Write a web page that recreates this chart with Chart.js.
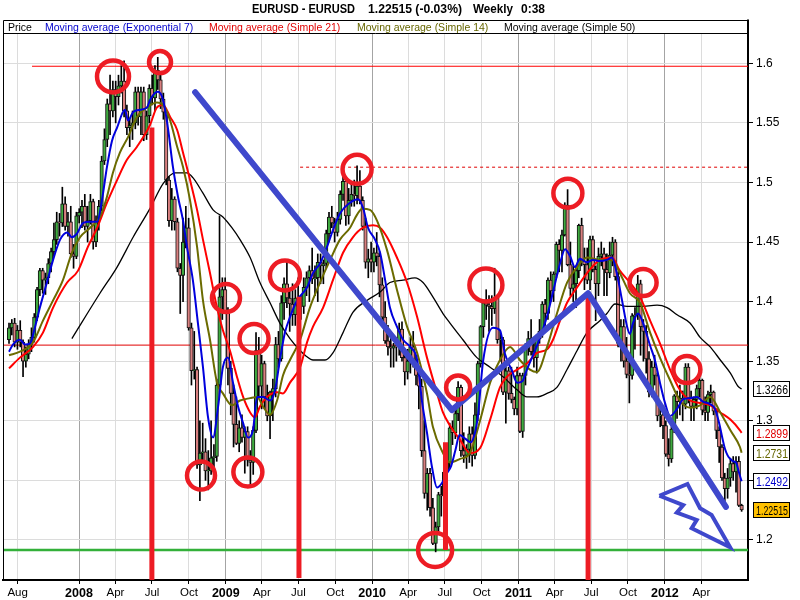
<!DOCTYPE html>
<html><head><meta charset="utf-8"><title>EURUSD Weekly</title>
<script src="https://cdn.jsdelivr.net/npm/chart.js@4.4.1/dist/chart.umd.min.js"></script>
<style>html,body{margin:0;padding:0;background:#fff;overflow:hidden}canvas{display:block}</style>
</head><body>
<canvas id="chart" width="800" height="600"></canvas>
<script>
// ===== DATA (weekly bars, index 0 = week of 9 Jul 2007) =====
const opens = [
1.368,1.378,1.382,1.366,1.376,1.366,1.350,1.356,1.364,1.370,
1.387,1.410,1.426,1.418,1.420,1.432,1.442,1.452,1.467,1.466,
1.482,1.463,1.467,1.440,1.438,1.472,1.475,1.480,1.463,1.468,
1.484,1.450,1.468,1.480,1.518,1.536,1.566,1.560,1.578,1.572,
1.581,1.585,1.560,1.546,1.548,1.550,1.576,1.555,1.576,1.540,
1.556,1.579,1.571,1.594,1.586,1.570,1.559,1.502,1.468,1.486,
1.467,1.428,1.422,1.450,1.462,1.378,1.342,1.343,1.263,1.273,
1.274,1.258,1.258,1.269,1.270,1.330,1.404,1.410,1.392,1.344,
1.323,1.297,1.281,1.294,1.286,1.291,1.267,1.265,1.292,1.359,
1.329,1.348,1.320,1.304,1.324,1.327,1.364,1.352,1.399,1.415,
1.403,1.398,1.389,1.403,1.396,1.396,1.412,1.420,1.426,1.419,
1.420,1.433,1.430,1.432,1.457,1.471,1.466,1.458,1.469,1.490,
1.501,1.472,1.485,1.490,1.489,1.497,1.485,1.463,1.433,1.436,
1.433,1.441,1.438,1.414,1.387,1.367,1.362,1.361,1.363,1.362,
1.377,1.353,1.341,1.350,1.362,1.350,1.338,1.329,1.275,1.239,
1.256,1.227,1.197,1.211,1.238,1.237,1.257,1.265,1.294,1.290,
1.306,1.328,1.275,1.271,1.276,1.289,1.271,1.305,1.348,1.379,
1.399,1.397,1.396,1.394,1.403,1.368,1.368,1.324,1.342,1.323,
1.318,1.310,1.338,1.291,1.338,1.362,1.369,1.358,1.353,1.369,
1.375,1.398,1.390,1.418,1.409,1.423,1.448,1.443,1.456,1.481,
1.431,1.411,1.415,1.426,1.464,1.434,1.431,1.418,1.452,1.427,
1.415,1.438,1.440,1.427,1.424,1.439,1.450,1.421,1.365,1.379,
1.350,1.339,1.338,1.388,1.389,1.415,1.379,1.375,1.352,1.324,
1.345,1.338,1.304,1.305,1.296,1.272,1.268,1.293,1.321,1.316,
1.319,1.314,1.345,1.319,1.312,1.318,1.327,1.334,1.309,1.307,
1.322,1.324,1.308,1.292,1.278,1.252,1.243,1.252,1.264,1.257,
1.266,1.229];
const highs = [
1.382,1.385,1.386,1.380,1.384,1.368,1.362,1.368,1.378,1.390,
1.412,1.428,1.428,1.424,1.436,1.445,1.466,1.475,1.474,1.496,
1.488,1.475,1.480,1.448,1.475,1.478,1.485,1.490,1.480,1.490,
1.486,1.472,1.485,1.522,1.545,1.570,1.590,1.585,1.585,1.590,
1.598,1.602,1.565,1.554,1.560,1.580,1.580,1.580,1.580,1.560,
1.582,1.590,1.598,1.605,1.590,1.575,1.560,1.505,1.495,1.488,
1.470,1.432,1.470,1.480,1.470,1.382,1.375,1.345,1.300,1.298,
1.285,1.275,1.300,1.280,1.335,1.472,1.420,1.420,1.395,1.350,
1.330,1.320,1.300,1.305,1.295,1.295,1.275,1.295,1.374,1.370,
1.355,1.350,1.330,1.325,1.335,1.370,1.375,1.405,1.420,1.433,
1.410,1.415,1.410,1.420,1.405,1.420,1.425,1.430,1.445,1.430,
1.440,1.440,1.435,1.460,1.475,1.480,1.470,1.475,1.493,1.508,
1.505,1.495,1.500,1.502,1.514,1.510,1.488,1.470,1.444,1.450,
1.445,1.458,1.442,1.420,1.400,1.380,1.375,1.365,1.370,1.382,
1.383,1.360,1.360,1.370,1.375,1.355,1.345,1.335,1.300,1.260,
1.260,1.235,1.215,1.240,1.245,1.260,1.275,1.298,1.300,1.312,
1.333,1.330,1.290,1.280,1.295,1.295,1.315,1.350,1.380,1.400,
1.410,1.405,1.405,1.428,1.405,1.375,1.370,1.345,1.345,1.345,
1.320,1.345,1.340,1.340,1.365,1.375,1.385,1.370,1.372,1.385,
1.400,1.402,1.420,1.425,1.425,1.450,1.452,1.460,1.483,1.494,
1.450,1.430,1.430,1.465,1.470,1.445,1.445,1.455,1.455,1.430,
1.445,1.450,1.445,1.440,1.450,1.454,1.452,1.425,1.385,1.385,
1.370,1.350,1.390,1.395,1.422,1.418,1.385,1.380,1.358,1.350,
1.355,1.340,1.310,1.310,1.300,1.285,1.295,1.322,1.325,1.330,
1.325,1.348,1.348,1.325,1.320,1.330,1.338,1.335,1.320,1.325,
1.330,1.325,1.310,1.295,1.280,1.256,1.260,1.268,1.270,1.270,
1.270,1.230];
const lows = [
1.365,1.372,1.362,1.360,1.362,1.337,1.345,1.352,1.358,1.366,
1.384,1.405,1.407,1.406,1.415,1.425,1.438,1.448,1.455,1.463,
1.460,1.455,1.437,1.428,1.436,1.466,1.462,1.460,1.450,1.465,
1.444,1.446,1.460,1.476,1.515,1.530,1.540,1.555,1.550,1.565,
1.575,1.555,1.540,1.530,1.536,1.545,1.548,1.540,1.535,1.536,
1.550,1.565,1.560,1.578,1.562,1.553,1.498,1.463,1.460,1.460,
1.425,1.390,1.400,1.445,1.376,1.330,1.335,1.260,1.233,1.265,
1.250,1.242,1.255,1.252,1.266,1.328,1.385,1.390,1.330,1.305,
1.278,1.280,1.274,1.282,1.256,1.262,1.246,1.255,1.290,1.320,
1.310,1.310,1.300,1.285,1.300,1.320,1.345,1.350,1.385,1.395,
1.375,1.380,1.380,1.395,1.385,1.390,1.405,1.400,1.415,1.405,
1.400,1.415,1.415,1.428,1.450,1.462,1.450,1.455,1.465,1.485,
1.464,1.465,1.480,1.480,1.482,1.482,1.460,1.428,1.420,1.425,
1.425,1.430,1.404,1.385,1.365,1.355,1.345,1.345,1.350,1.355,
1.350,1.330,1.335,1.340,1.345,1.330,1.310,1.270,1.235,1.225,
1.220,1.196,1.190,1.205,1.220,1.215,1.250,1.260,1.280,1.285,
1.300,1.270,1.265,1.260,1.265,1.262,1.268,1.300,1.345,1.370,
1.385,1.375,1.380,1.390,1.365,1.350,1.322,1.298,1.318,1.315,
1.305,1.305,1.290,1.286,1.330,1.355,1.355,1.345,1.340,1.365,
1.370,1.380,1.385,1.400,1.400,1.420,1.425,1.425,1.455,1.430,
1.405,1.400,1.395,1.420,1.430,1.410,1.415,1.410,1.425,1.384,
1.405,1.430,1.405,1.405,1.420,1.430,1.418,1.362,1.350,1.345,
1.336,1.315,1.335,1.360,1.385,1.355,1.350,1.340,1.320,1.320,
1.330,1.300,1.295,1.285,1.270,1.262,1.265,1.290,1.302,1.305,
1.300,1.310,1.315,1.300,1.300,1.310,1.320,1.305,1.300,1.300,
1.315,1.305,1.285,1.265,1.250,1.229,1.235,1.245,1.250,1.240,
1.228,1.224];
const closes = [
1.378,1.382,1.366,1.376,1.366,1.350,1.356,1.364,1.370,1.387,
1.410,1.426,1.418,1.420,1.432,1.442,1.452,1.467,1.466,1.482,
1.463,1.467,1.440,1.438,1.472,1.475,1.480,1.463,1.468,1.484,
1.450,1.468,1.480,1.518,1.536,1.566,1.560,1.578,1.572,1.581,
1.585,1.560,1.546,1.548,1.550,1.576,1.555,1.576,1.540,1.556,
1.579,1.571,1.594,1.586,1.570,1.559,1.502,1.468,1.486,1.467,
1.428,1.422,1.450,1.462,1.378,1.342,1.343,1.263,1.273,1.274,
1.258,1.258,1.269,1.270,1.330,1.404,1.410,1.392,1.344,1.323,
1.297,1.281,1.294,1.286,1.291,1.267,1.265,1.292,1.359,1.329,
1.348,1.320,1.304,1.324,1.327,1.364,1.352,1.399,1.415,1.403,
1.398,1.389,1.403,1.396,1.396,1.412,1.420,1.426,1.419,1.420,
1.433,1.430,1.432,1.457,1.471,1.466,1.458,1.469,1.490,1.501,
1.472,1.485,1.490,1.489,1.497,1.485,1.463,1.433,1.436,1.433,
1.441,1.438,1.414,1.387,1.367,1.362,1.361,1.363,1.362,1.377,
1.353,1.341,1.350,1.362,1.350,1.338,1.329,1.275,1.239,1.256,
1.227,1.197,1.211,1.238,1.237,1.257,1.265,1.294,1.290,1.306,
1.328,1.275,1.271,1.276,1.289,1.271,1.305,1.348,1.379,1.399,
1.397,1.396,1.394,1.403,1.368,1.368,1.324,1.342,1.323,1.318,
1.310,1.338,1.291,1.338,1.362,1.369,1.358,1.353,1.369,1.375,
1.398,1.390,1.418,1.409,1.423,1.448,1.443,1.456,1.481,1.431,
1.411,1.415,1.426,1.464,1.434,1.431,1.418,1.452,1.427,1.415,
1.438,1.440,1.427,1.424,1.439,1.450,1.421,1.365,1.379,1.350,
1.339,1.338,1.388,1.389,1.415,1.379,1.375,1.352,1.324,1.345,
1.338,1.304,1.305,1.296,1.272,1.268,1.293,1.321,1.316,1.319,
1.314,1.345,1.319,1.312,1.318,1.327,1.334,1.309,1.307,1.322,
1.324,1.308,1.292,1.278,1.252,1.243,1.252,1.264,1.257,1.266,
1.229,1.22515];

// moving averages: [bar index, value]
const ema7 = [[0,1.358],[1.4,1.364],[3.9,1.368],[5.7,1.364],[7.5,1.365],[9.3,1.379],[11,1.395],[13.5,1.416],[15.7,1.435],[18.2,1.452],[20.7,1.458],[22.4,1.454],[24.2,1.457],[26.4,1.466],[28.9,1.467],[31.4,1.467],[33.1,1.485],[34.9,1.513],[36.7,1.535],[38.5,1.546],[41.3,1.561],[42.4,1.552],[44.2,1.559],[46.7,1.561],[49.2,1.563],[50.2,1.569],[52,1.575],[53.1,1.576],[54.9,1.569],[56.6,1.546],[58.4,1.513],[60.2,1.488],[62,1.468],[63.4,1.446],[65.5,1.418],[67.3,1.382],[69.1,1.345],[70.9,1.303],[72.7,1.286],[74.5,1.312],[76.2,1.345],[78,1.353],[79.8,1.332],[81.6,1.312],[83.4,1.298],[85.1,1.286],[86.9,1.292],[88.4,1.320],[90.5,1.320],[93,1.317],[94.8,1.326],[96.5,1.351],[98.3,1.374],[100.1,1.387],[102.6,1.401],[106.2,1.412],[108.3,1.424],[110.8,1.432],[113.3,1.446],[115.4,1.460],[117.9,1.474],[121.5,1.483],[124.3,1.486],[126.1,1.479],[127.9,1.462],[130.4,1.452],[132.2,1.441],[134,1.418],[135.7,1.395],[138.2,1.379],[140.4,1.368],[142.9,1.362],[145.4,1.351],[147.1,1.317],[148.9,1.290],[150.7,1.261],[152.5,1.244],[154.3,1.248],[156,1.256],[157.5,1.262],[159,1.275],[160.5,1.288],[162.5,1.285],[164.5,1.282],[166,1.290],[167,1.303],[168.9,1.350],[172.4,1.378],[174.9,1.376],[176.7,1.356],[179.2,1.342],[181,1.332],[182.8,1.333],[184.5,1.343],[186.7,1.355],[189.2,1.370],[191.7,1.388],[193.8,1.408],[196.3,1.432],[198.1,1.444],[199.9,1.438],[201.6,1.429],[203.4,1.436],[205.9,1.433],[208,1.435],[210.5,1.434],[213,1.435],[214.8,1.437],[216.6,1.423],[218.4,1.401],[220.2,1.379],[221.2,1.373],[222.3,1.382],[224.1,1.390],[225.9,1.382],[228.4,1.363],[230.1,1.351],[231.9,1.332],[233.7,1.315],[235.5,1.304],[238,1.310],[240.1,1.318],[242.6,1.319],[245.1,1.320],[247.2,1.316],[249.7,1.314],[251.5,1.310],[253,1.298],[254,1.287],[255,1.277],[256,1.271],[257,1.268],[258,1.266],[259,1.265],[260,1.257],[261,1.2492]];
const sma21 = [[0,1.344],[3.9,1.353],[8.6,1.362],[12.1,1.374],[15.7,1.395],[20.7,1.416],[24.6,1.426],[28.1,1.446],[31.4,1.462],[34.9,1.483],[38.5,1.502],[42,1.519],[45.6,1.530],[50.2,1.548],[52.7,1.563],[54.9,1.565],[57.4,1.555],[59.9,1.544],[62,1.525],[64.5,1.502],[67,1.477],[69.1,1.452],[71.6,1.424],[74.1,1.395],[76.2,1.376],[78.7,1.359],[81.2,1.337],[83.4,1.320],[85.9,1.307],[87.6,1.303],[89.4,1.312],[91.9,1.320],[95.5,1.324],[97.6,1.323],[100.1,1.332],[103.7,1.345],[106.2,1.366],[108.3,1.379],[111.9,1.395],[115.4,1.418],[119,1.441],[122.5,1.454],[126.1,1.462],[129.7,1.464],[132.2,1.462],[134.7,1.454],[138.2,1.437],[141.8,1.416],[145.4,1.387],[148.9,1.353],[152.5,1.323],[154.6,1.307],[157.1,1.296],[160.7,1.284],[164.2,1.273],[167.8,1.277],[171.4,1.301],[174.9,1.328],[177.4,1.337],[181,1.343],[184.5,1.348],[188.1,1.357],[191.7,1.360],[193.8,1.368],[196.3,1.384],[198.8,1.399],[202.4,1.412],[205.9,1.424],[210.5,1.435],[214.8,1.437],[217.6,1.426],[221.2,1.416],[224.8,1.404],[228.4,1.384],[231.9,1.365],[235.5,1.343],[239,1.326],[242.6,1.317],[246.2,1.315],[249.8,1.313],[253.4,1.307],[257,1.301],[260.4,1.292],[261,1.2899]];
const sma14 = [[0,1.355],[3.9,1.358],[8.6,1.366],[12.1,1.384],[15.7,1.401],[19.2,1.418],[22.4,1.441],[25.3,1.454],[28.9,1.462],[32.4,1.471],[34.9,1.488],[37,1.508],[39.5,1.525],[42.4,1.538],[45.6,1.555],[49.2,1.563],[52.7,1.567],[54.9,1.565],[57.4,1.552],[59.9,1.530],[62,1.513],[64.5,1.485],[67,1.446],[69.1,1.401],[71.6,1.368],[74.1,1.332],[76.2,1.323],[79.4,1.313],[82.3,1.317],[85.9,1.319],[88.4,1.320],[90.5,1.312],[93,1.305],[95.5,1.317],[97.6,1.338],[100.1,1.351],[103.7,1.368],[107.2,1.395],[110.8,1.416],[114.4,1.435],[117.9,1.452],[121.5,1.462],[124,1.473],[125.8,1.478],[128.6,1.477],[131.1,1.468],[134.7,1.443],[138.2,1.410],[141.8,1.379],[145.4,1.357],[148.9,1.323],[151,1.295],[154.6,1.273],[157.1,1.265],[160.7,1.268],[164.2,1.273],[167.8,1.300],[171.4,1.332],[174.9,1.351],[178.5,1.362],[182,1.351],[185.6,1.343],[188.1,1.341],[191.7,1.362],[195.2,1.390],[198.8,1.416],[202.4,1.429],[205.9,1.437],[210.5,1.435],[214.8,1.435],[217.6,1.424],[221.2,1.407],[224.8,1.399],[228.4,1.374],[231.9,1.353],[235.5,1.334],[239,1.317],[242.6,1.311],[246.2,1.313],[249.8,1.320],[253.4,1.307],[257,1.292],[260.4,1.278],[261,1.2731]];
const sma50 = [[22.4,1.369],[32.4,1.407],[38.5,1.429],[44.2,1.454],[50.2,1.478],[54.9,1.499],[59.1,1.508],[63.4,1.508],[65.5,1.504],[69.1,1.491],[72.7,1.477],[76.2,1.471],[79.4,1.462],[82.3,1.452],[85.9,1.437],[89.4,1.416],[93,1.399],[96.5,1.382],[100.1,1.369],[103.7,1.359],[106,1.354],[108.3,1.351],[112.6,1.351],[115.4,1.357],[119,1.374],[122.5,1.391],[127.5,1.401],[132.2,1.408],[135.7,1.416],[140.4,1.418],[144.6,1.420],[147.5,1.416],[151,1.404],[154.6,1.390],[157.1,1.382],[161.7,1.368],[166.7,1.353],[171.4,1.345],[176,1.337],[181,1.326],[184.5,1.320],[188.1,1.320],[191.7,1.323],[195.2,1.328],[198.8,1.343],[202.4,1.359],[205.9,1.374],[210.5,1.384],[213,1.390],[215.9,1.398],[220.2,1.396],[224.8,1.396],[230.9,1.397],[234.4,1.395],[238,1.389],[242.6,1.382],[246.2,1.370],[249.8,1.362],[253.4,1.351],[257,1.340],[259.7,1.329],[261,1.3266]];

// axis ticks
const xTickValues = [3.09,24.94,37.94,50.94,64.09,77.23,90.09,103.09,116.23,129.37,142.23,155.23,168.37,181.51,194.37,207.37,220.51,233.66,246.66];
const xTickLabels = ['Aug','2008','Apr','Jul','Oct','2009','Apr','Jul','Oct','2010','Apr','Jul','Oct','2011','Apr','Jul','Oct','2012','Apr'];
const yTickValues = [1.2,1.25,1.3,1.35,1.4,1.45,1.5,1.55,1.6];
const yTickLabels = ['1.2','1.25','1.3','1.35','1.4','1.45','1.5','1.55','1.6'];

// drawn annotations (bar index / price)
const levelValues = [1.5975, 1.3635, 1.5128, 1.1916];
const levelStarts = [8.2, -2.14, 103.7, -2.14];
const vLineX = [50.9, 103.3, 155.5, 206.3];
const vLineTop = [1.546, 1.404, 1.282, 1.407];
const vLineBottom = [1.1664, 1.168, 1.1916, 1.1664];
const trendX = [66.3, 157.8, 206.3, 255.4];
const trendY = [1.5757, 1.309, 1.4071, 1.2277];
const boltX = [231.7, 241.7, 246.2, 250.3, 256.9, 243.2, 245.0, 237.9, 240.2, 231.7];
const boltY = [1.2371, 1.2470, 1.2266, 1.2210, 1.1939, 1.2098, 1.2168, 1.2229, 1.2293, 1.2371];
const circleX = [37.05, 53.8, 124, 68.4, 85.1, 77.3, 87.3, 98.3, 151.8, 160, 169.9, 199.1, 225.9, 241.5];
const circleY = [1.589, 1.601, 1.511, 1.254, 1.257, 1.403, 1.369, 1.422, 1.1916, 1.328, 1.414, 1.491, 1.416, 1.343];

// ===== STYLE / LAYOUT =====
const circleRadius = [16, 11, 14.5, 14, 14.5, 14, 14.5, 15, 17, 12, 16.5, 14.5, 13.5, 13.5];
const FONT = '"Liberation Sans", Arial, Helvetica, sans-serif';
const X_MIN = -2.14, X_MAX = 263.27, Y_MIN = 1.1664, Y_MAX = 1.6254;
const UP = '#3faa3f', DOWN = '#d98080';
const isYear = s => /^\d{4}$/.test(s);

const n = closes.length;
const idx = Array.from({length: n}, (_, i) => i);
const pts = arr => arr.map(([x, y]) => ({x, y}));

const datasets = [];
const levelStyles = [
  {c: '#ff0000', w: 1.2, d: []},
  {c: '#e00000', w: 1, d: []},
  {c: '#e00000', w: 1, d: [3, 3]},
  {c: '#33b03a', w: 2.5, d: []}
];
levelValues.forEach((v, k) => datasets.push({
  type: 'line', data: [{x: levelStarts[k], y: v}, {x: X_MAX, y: v}],
  borderColor: levelStyles[k].c, borderWidth: levelStyles[k].w, borderDash: levelStyles[k].d,
  pointRadius: 0, order: 30
}));
datasets.push({
  type: 'bar', label: 'wick', data: idx.map(i => ({x: i, y: [lows[i], highs[i]]})),
  backgroundColor: '#000', barThickness: 1, grouped: false, order: 21
});
datasets.push({
  type: 'bar', label: 'Price', data: idx.map(i => ({x: i, y: [opens[i], closes[i]]})),
  backgroundColor: idx.map(i => closes[i] >= opens[i] ? UP : DOWN),
  borderColor: '#111', borderWidth: 1, borderSkipped: false,
  barThickness: 3.5, grouped: false, order: 20, minBarLength: 1
});
const maStyles = [
  [sma50, '#000000', 1.3, 13],
  [sma21, '#ff0000', 2, 12],
  [sma14, '#6b6b00', 2, 11],
  [ema7, '#0000dd', 2, 10]
];
maStyles.forEach(([arr, c, w, o]) => datasets.push({
  type: 'line', data: pts(arr), borderColor: c, borderWidth: w,
  pointRadius: 0, cubicInterpolationMode: 'monotone', order: o
}));
vLineX.forEach((x, k) => datasets.push({
  type: 'line', data: [{x, y: vLineTop[k]}, {x, y: vLineBottom[k]}],
  borderColor: '#ed1c24', borderWidth: 5, pointRadius: 0, order: 5, clip: 0
}));
datasets.push({
  type: 'line', data: trendX.map((x, k) => ({x, y: trendY[k]})),
  borderColor: '#3f48cc', borderWidth: 6, pointRadius: 0, borderJoinStyle: 'round',
  borderCapStyle: 'round', order: 4
});
datasets.push({
  type: 'line', data: boltX.map((x, k) => ({x, y: boltY[k]})),
  borderColor: '#3f48cc', borderWidth: 4, pointRadius: 0, borderJoinStyle: 'miter', order: 4
});
datasets.push({
  type: 'scatter', data: circleX.map((x, k) => ({x, y: circleY[k]})),
  pointRadius: circleRadius, pointBorderWidth: 4.5, pointBorderColor: '#ed1c24',
  pointBackgroundColor: 'rgba(0,0,0,0)', pointHoverRadius: circleRadius, showLine: false, order: 2
});

const overlay = {
  id: 'overlay',
  afterDraw(chart) {
    const {ctx, scales: {y}} = chart;
    ctx.save();
    ctx.strokeStyle = '#000'; ctx.lineWidth = 1;
    ctx.beginPath();
    ctx.moveTo(3.5, 581); ctx.lineTo(3.5, 20.5); ctx.lineTo(748, 20.5);
    ctx.moveTo(3.5, 33.5); ctx.lineTo(748, 33.5);
    ctx.stroke();
    ctx.lineWidth = 2; ctx.beginPath(); ctx.moveTo(748, 19.5); ctx.lineTo(748, 34); ctx.stroke();
    ctx.fillStyle = '#000'; ctx.textAlign = 'left'; ctx.textBaseline = 'alphabetic';
    ctx.font = 'bold 12.5px ' + FONT;
    [['EURUSD - EURUSD', 252, 103], ['1.22515 (-0.03%)', 368, 94], ['Weekly', 473, 40], ['0:38', 521, 24]]
      .forEach(([t, x, w]) => ctx.fillText(t, x, 12.5, w));
    ctx.font = '10.5px ' + FONT;
    [['Price', 8, '#000', 26], ['Moving average (Exponential 7)', 45, '#0000cc', 151],
     ['Moving average (Simple 21)', 209, '#e00000', 134], ['Moving average (Simple 14)', 357, '#666600', 134],
     ['Moving average (Simple 50)', 504, '#000', 133]]
      .forEach(([t, x, c, w]) => { ctx.fillStyle = c; ctx.fillText(t, x, 30.5, w); });
    const boxes = [
      [sma50[sma50.length - 1][1], '#000', '#fff', 4],
      [sma21[sma21.length - 1][1], '#e00000', '#fff', 4],
      [sma14[sma14.length - 1][1], '#666600', '#fff', 4],
      [ema7[ema7.length - 1][1], '#0000cc', '#fff', 4],
      [closes[n - 1], '#000', '#ffc000', 5]
    ];
    ctx.font = '12px ' + FONT;
    boxes.forEach(([v, c, bg, dec]) => {
      const py = Math.round(y.getPixelForValue(v));
      ctx.fillStyle = bg; ctx.fillRect(754, py - 7, 35, 14);
      ctx.strokeStyle = '#000'; ctx.lineWidth = 1; ctx.strokeRect(753.5, py - 7.5, 36, 15);
      ctx.fillStyle = c; ctx.fillText(v.toFixed(dec), 756, py + 4.5, 32);
    });
    ctx.restore();
  }
};

new Chart(document.getElementById('chart'), {
  type: 'bar',
  data: {datasets},
  options: {
    responsive: false, animation: false, devicePixelRatio: 1,
    events: [],
    layout: {autoPadding: false, padding: {top: 33, left: 3, right: 0, bottom: 0}},
    plugins: {legend: {display: false}, tooltip: {enabled: false}, title: {display: false}},
    scales: {
      x: {
        type: 'linear', min: X_MIN, max: X_MAX, offset: false,
        afterBuildTicks: s => { s.ticks = xTickValues.map(v => ({value: v})); },
        afterFit: s => { s.height = 20; s.paddingLeft = 0; s.paddingRight = 0; },
        ticks: {
          autoSkip: false, maxRotation: 0, minRotation: 0, padding: 2, color: '#000',
          callback: (v, i) => xTickLabels[i],
          font: c => ({family: FONT, size: isYear(xTickLabels[c.index]) ? 12.5 : 11.5,
                       weight: isYear(xTickLabels[c.index]) ? 'bold' : 'normal'})
        },
        grid: {
          offset: false, lineWidth: 1, drawTicks: true, tickLength: 4, tickColor: '#000',
          color: c => isYear(xTickLabels[c.index]) ? '#a4a4a4' : '#dcdcdc'
        },
        border: {display: true, color: '#000', width: 2}
      },
      y: {
        type: 'linear', position: 'right', min: Y_MIN, max: Y_MAX, beginAtZero: false,
        afterBuildTicks: s => { s.ticks = yTickValues.map(v => ({value: v})); },
        afterFit: s => { s.width = 52; s.paddingTop = 0; s.paddingBottom = 0; },
        ticks: {
          autoSkip: false, padding: 3, color: '#000',
          callback: (v, i) => yTickLabels[i],
          font: {family: FONT, size: 12}
        },
        grid: {lineWidth: 1, color: '#dcdcdc', drawTicks: true, tickLength: 5, tickColor: '#000'},
        border: {display: true, color: '#000', width: 2}
      }
    }
  },
  plugins: [overlay]
});
</script>
</body></html>
